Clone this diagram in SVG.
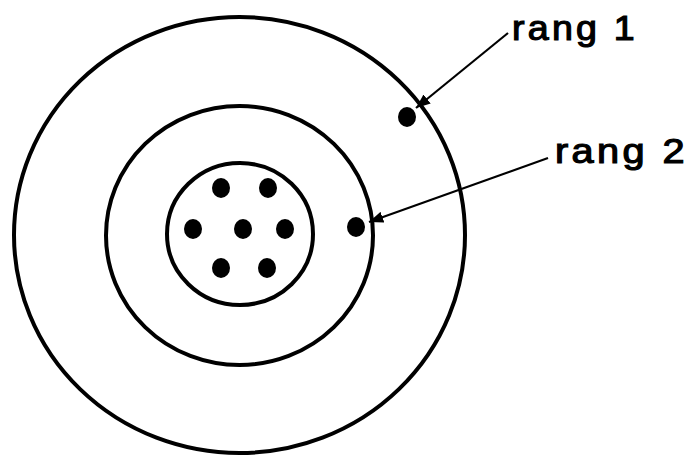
<svg xmlns="http://www.w3.org/2000/svg" width="693" height="457" viewBox="0 0 693 457">
<style>
.ring{fill:none;stroke:#000;stroke-width:4}
.dot{fill:#000}
.lead{fill:none;stroke:#000;stroke-width:2.2}
.lbl{font-family:"Liberation Sans","DejaVu Sans",sans-serif;font-size:35px;fill:#000;stroke:#000;stroke-width:1.2;letter-spacing:3px}
</style>
<defs>
<marker id="ah" viewBox="0 0 10 8" refX="10" refY="4" markerWidth="6.5" markerHeight="5.5" orient="auto" markerUnits="strokeWidth">
<path d="M0,0 L10,4 L0,8 Z" fill="#000"/>
</marker>
</defs>
<rect width="693" height="457" fill="#fff"/>
<g id="outer-ring"><ellipse class="ring" cx="239.5" cy="235" rx="225.5" ry="218"/></g>
<g id="middle-ring"><ellipse class="ring" cx="239.5" cy="235.5" rx="133.5" ry="129.5"/></g>
<g id="inner-ring"><ellipse class="ring" cx="240" cy="234" rx="73" ry="71"/></g>
<g id="core-dots">
<ellipse class="dot" cx="221" cy="188" rx="9" ry="10"/>
<ellipse class="dot" cx="268" cy="188" rx="9" ry="10"/>
<ellipse class="dot" cx="193" cy="229" rx="9" ry="10"/>
<ellipse class="dot" cx="243" cy="229" rx="9" ry="10"/>
<ellipse class="dot" cx="285" cy="229" rx="9" ry="10"/>
<ellipse class="dot" cx="221" cy="268" rx="9" ry="10"/>
<ellipse class="dot" cx="267" cy="268" rx="9" ry="10"/>
</g>
<g id="dot-rang1"><ellipse class="dot" cx="407" cy="117" rx="9" ry="10"/></g>
<g id="dot-rang2"><ellipse class="dot" cx="356" cy="227" rx="9" ry="10"/></g>
<g id="label-rang1"><text class="lbl" x="512" y="40" textLength="126" lengthAdjust="spacingAndGlyphs">rang 1</text></g>
<g id="label-rang2"><text class="lbl" x="555" y="163" textLength="133" lengthAdjust="spacingAndGlyphs">rang 2</text></g>
<g id="connectors">
<line class="lead" x1="508" y1="33" x2="416" y2="108" marker-end="url(#ah)"/>
<line class="lead" x1="548" y1="158" x2="369" y2="222" marker-end="url(#ah)"/>
</g>
</svg>
